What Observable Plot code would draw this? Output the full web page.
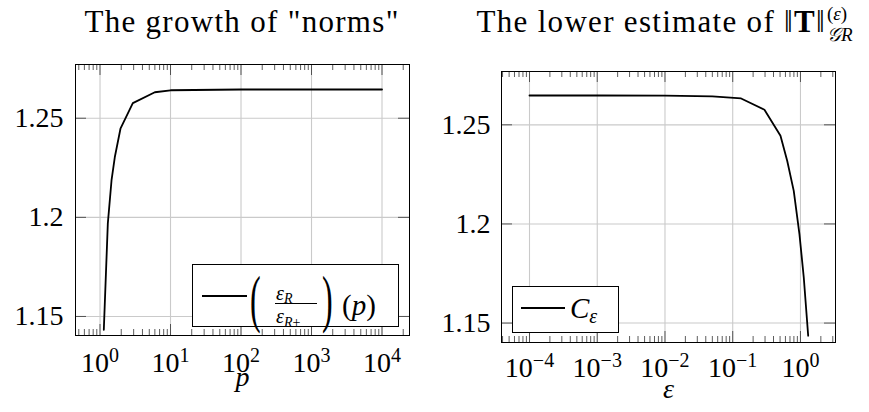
<!DOCTYPE html>
<html><head><meta charset="utf-8">
<script src="https://cdn.jsdelivr.net/npm/d3@7"></script>
<script src="https://cdn.jsdelivr.net/npm/@observablehq/plot@0.6"></script>
<style>
body{margin:0;background:#fff;}
#root{position:relative;width:869px;height:412px;overflow:hidden;font-family:"Liberation Serif",serif;color:#000;}
.panel{position:absolute;top:0;}
.abs{position:absolute;line-height:1;white-space:nowrap;}
.title{font-size:31px;letter-spacing:1.3px;transform:translateX(-50%);}
.ss{display:inline-block;position:relative;height:0;width:1.4em;}
.ss .sup{position:absolute;left:0.05em;bottom:11px;font-size:19px;line-height:0.8;letter-spacing:0;}
.ss .sub{position:absolute;left:0.05em;top:-5px;font-size:19px;line-height:0.8;letter-spacing:0;}
.box{position:absolute;box-sizing:border-box;border:1px solid #000;background:#fff;}
.sample{position:absolute;height:2px;background:#000;}
</style></head><body><div id="root"></div>
<script>
// ---- data ----
const pValues      = [1.132, 1.29, 1.456, 1.62, 1.95, 2.92, 5.99, 10, 100, 1000, 10000];
const growthValues = [1.1433, 1.1968, 1.2186, 1.2303, 1.2447, 1.2576, 1.2631, 1.2641, 1.2645, 1.2645, 1.2645];
const epsValues    = [1e-4, 1e-3, 1e-2, 0.05, 0.133, 0.294, 0.507, 0.637, 0.796, 0.966, 1.119, 1.30];
const cValues      = [1.2648, 1.2648, 1.2647, 1.2644, 1.2633, 1.2576, 1.2445, 1.2319, 1.2167, 1.1949, 1.173, 1.1436];
const yTickValues  = [1.15, 1.2, 1.25];
const pTicks       = [1, 10, 100, 1000, 10000];
const epsTicks     = [1e-4, 1e-3, 1e-2, 1e-1, 1];
const pDomain      = [0.449, 24550];
const epsDomain    = [3.86e-5, 3.29];
const yDomainLeft  = [1.1404, 1.2771];
const yDomainRight = [1.1402, 1.2769];

const FONT = "Liberation Serif, serif";

function minorTicks(domain){
  const out=[];
  for(let k=Math.floor(Math.log10(domain[0]));k<=Math.ceil(Math.log10(domain[1]));k++){
    for(let m=2;m<=9;m++){const v=m*Math.pow(10,k); if(v>=domain[0]&&v<=domain[1]) out.push(v);}
  }
  return out;
}
const fmtPow = d => "10^" + String(Math.round(Math.log10(d))).replace("-", "\u2212");

function panel({width, height, ml, mr, mt, mb, xDomain, yDomain, xTicks, xs, ys, label, xPad, yPad, labelDy}){
  const pw = width-ml-mr, ph = height-mt-mb;
  const data = xs.map((x,i)=>({x, y: ys[i]}));
  const minor = minorTicks(xDomain);
  const tick = {stroke:"#333", strokeWidth:0.8};
  const svg = Plot.plot({
    width, height, marginLeft:ml, marginRight:mr, marginTop:mt, marginBottom:mb,
    x:{type:"log", domain:xDomain},
    y:{domain:yDomain},
    style:{fontFamily:FONT, fontSize:"28px", background:"transparent", color:"#000"},
    marks:[
      Plot.ruleX(xTicks, {stroke:"#cacaca", strokeWidth:1.1}),
      Plot.ruleY(yTickValues, {stroke:"#cacaca", strokeWidth:1.1}),
      Plot.ruleX(minor, {...tick, insetTop: ph-6}),
      Plot.ruleX(minor, {...tick, insetBottom: ph-6}),
      Plot.ruleX(xTicks, {...tick, insetTop: ph-11}),
      Plot.ruleX(xTicks, {...tick, insetBottom: ph-11}),
      Plot.ruleY(yTickValues, {...tick, insetRight: pw-11}),
      Plot.ruleY(yTickValues, {...tick, insetLeft: pw-11}),
      Plot.line(data, {x:"x", y:"y", stroke:"#000", strokeWidth:1.8}),
      Plot.frame({stroke:"#000", strokeWidth:1}),
      Plot.axisX(xTicks, {anchor:"bottom", tickSize:0, tickPadding:xPad, tickFormat:fmtPow, fontSize:28, label:null}),
      Plot.axisY(yTickValues, {anchor:"left", tickSize:0, tickPadding:yPad, tickFormat:d=>String(d), fontSize:28, label:null}),
      Plot.text([label], {text:d=>d, frameAnchor:"bottom", dy:labelDy, fontStyle:"italic", fontSize:28})
    ]
  });
  svg.querySelectorAll('g[aria-label="x-axis tick label"] text').forEach(t=>{
    const s=t.textContent; const [b,e]=s.split("^");
    t.textContent="";
    const t1=document.createElementNS("http://www.w3.org/2000/svg","tspan"); t1.textContent=b; t.appendChild(t1);
    const t2=document.createElementNS("http://www.w3.org/2000/svg","tspan"); t2.textContent=e;
    t2.setAttribute("dy","-10"); t2.setAttribute("font-size","20"); t.appendChild(t2);
  });
  return svg;
}

const root = document.getElementById("root");
const left = panel({width:435, height:412, ml:75, mr:26, mt:64, mb:77, xDomain:pDomain, yDomain:yDomainLeft,
  xTicks:pTicks, xs:pValues, ys:growthValues, label:"p", xPad:17, yPad:12, labelDy:50});
left.classList.add("panel"); left.style.left="0px"; root.appendChild(left);
const right = panel({width:434, height:412, ml:66, mr:34, mt:71, mb:70, xDomain:epsDomain, yDomain:yDomainRight,
  xTicks:epsTicks, xs:epsValues, ys:cValues, label:"\u03b5", xPad:15, yPad:11, labelDy:55});
right.classList.add("panel"); right.style.left="435px"; root.appendChild(right);

// ---- titles and legends ----
const overlay = document.createElement("div");
overlay.innerHTML = `
<div class="abs title" style="left:242px;top:6px;">The growth of "norms"</div>
<div class="abs title" style="left:673px;top:6px;">The lower estimate of \u2016<b>T</b>\u2016<span class="ss"><span class="sup">(<i>\u03b5</i>)</span><span class="sub"><i>\u{1D4A2}R</i></span></span></div>

<div class="box" style="left:192px;top:264px;width:207px;height:63px;"></div>
<div class="sample" style="left:202px;top:295px;width:45px;"></div>
<div class="abs" style="left:250px;top:267px;font-size:64px;transform:scaleX(0.5);transform-origin:left top;">(</div>
<div class="abs" style="left:276px;top:283px;font-size:20px;"><i>\u03b5</i><span style="font-size:14px;position:relative;top:3px;"><i>R</i></span></div>
<div class="abs" style="left:275px;top:302.5px;width:42px;height:1.3px;background:#000;"></div>
<div class="abs" style="left:276px;top:306px;font-size:20px;"><i>\u03b5</i><span style="font-size:14px;position:relative;top:4px;"><i>R</i>+</span></div>
<div class="abs" style="left:322px;top:267px;font-size:64px;transform:scaleX(0.5);transform-origin:left top;">)</div>
<div class="abs" style="left:342px;top:291px;font-size:29px;">(<i>p</i>)</div>

<div class="box" style="left:512px;top:286px;width:107px;height:47px;"></div>
<div class="sample" style="left:521px;top:307px;width:44px;"></div>
<div class="abs" style="left:570px;top:294px;font-size:29px;"><i>C</i><span style="font-size:20px;position:relative;top:5px;"><i>\u03b5</i></span></div>
`;
root.appendChild(overlay);
</script>
</body></html>
